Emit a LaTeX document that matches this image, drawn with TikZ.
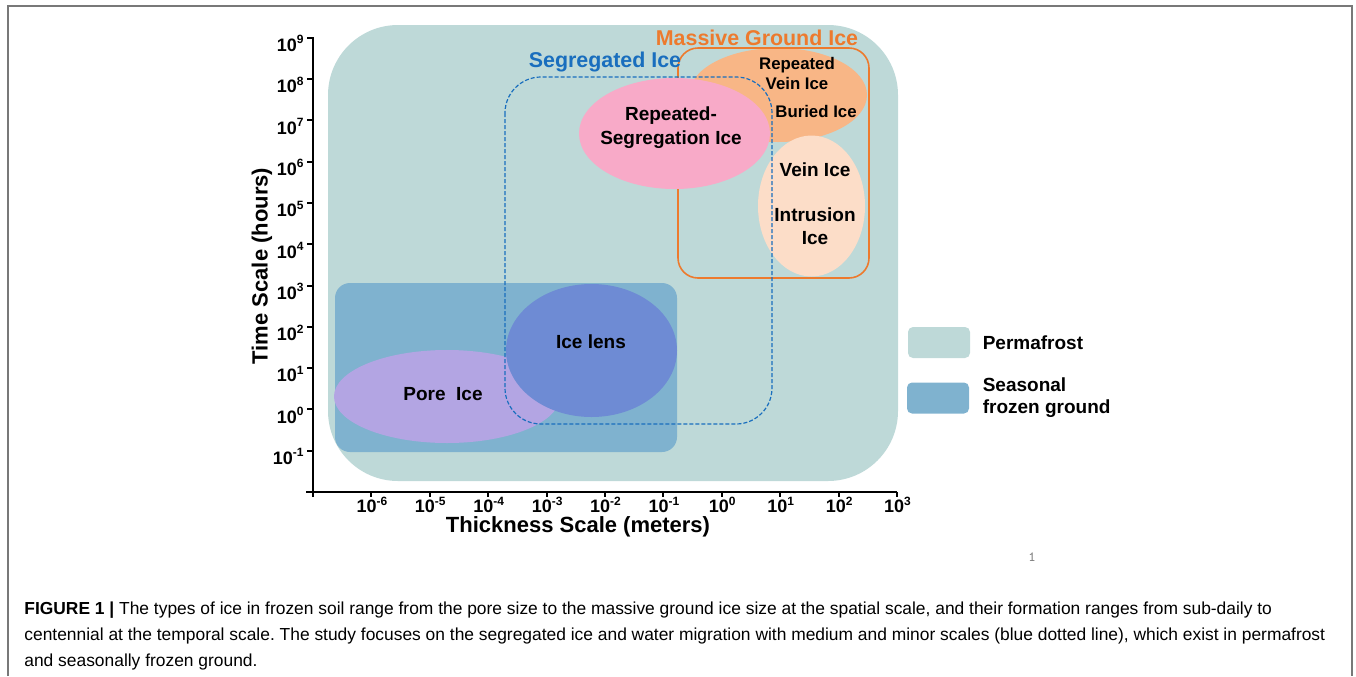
\documentclass[tikz,border=0pt]{standalone}
\usepackage{fontspec}
\setmainfont{Liberation Sans}
\usetikzlibrary{positioning}
\frenchspacing

\definecolor{permafrost}{RGB}{190,217,216}
\definecolor{seasonal}{RGB}{127,178,207}
\definecolor{poreice}{RGB}{179,165,227}
\definecolor{icelens}{RGB}{110,139,212}
\definecolor{repseg}{RGB}{248,170,200}
\definecolor{buried}{RGB}{248,182,134}
\definecolor{veinice}{RGB}{252,221,200}
\definecolor{segblue}{RGB}{25,110,190}
\definecolor{massorange}{RGB}{237,122,45}
\definecolor{framegray}{RGB}{120,120,120}

\tikzset{
	axisline/.style={line width=1pt, black},
	ticklbl/.style={font=\bfseries\fontsize{9}{10}\selectfont, inner sep=0pt},
	icelbl/.style={font=\bfseries\fontsize{9.5}{12}\selectfont, align=center, inner sep=0pt},
	smalllbl/.style={font=\bfseries\fontsize{8.4}{10}\selectfont, align=center, inner sep=0pt},
	grouplbl/.style={font=\bfseries\fontsize{10.7}{12}\selectfont, inner sep=0pt},
	axistitle/.style={font=\bfseries\fontsize{11}{13}\selectfont, inner sep=0pt},
	legbox/.style={rounded corners=2.5pt, minimum width=31pt, minimum height=15.5pt, inner sep=0pt},
	captionline/.style={font=\fontsize{8.7}{10}\selectfont, anchor=base west, inner sep=0pt},
}

\begin{document}
\begin{tikzpicture}[x=0.5pt, y=-0.5pt]
	\useasboundingbox (0,0) rectangle (1356,676);
	%FRAME
	\draw[framegray, line width=0.75pt] (8,676) -- (8,6) -- (1352,6) -- (1352,676);
	%REGIONS
	\fill[permafrost, rounded corners=35pt] (328,25) rectangle (898,481);
	\fill[seasonal, rounded corners=7.5pt] (335,283) rectangle (677,452);
	\fill[poreice] (447,396.5) ellipse [x radius=113, y radius=46.5];
	\fill[icelens] (591.5,350.5) ellipse [x radius=85.5, y radius=66.5];
	\fill[buried] (778,95) ellipse [x radius=89, y radius=47];
	\draw[massorange, line width=0.8pt, rounded corners=10pt] (678,48) rectangle (869,278);
	\fill[repseg] (674.5,133.5) ellipse [x radius=95.5, y radius=55.5];
	\fill[veinice] (811.5,206) ellipse [x radius=53.5, y radius=70.5];
	\draw[segblue, dashed, dash pattern=on 2pt off 1pt, line width=0.6pt, rounded corners=18pt] (505,77) rectangle (772,424);
	%LABELS for ice types
	\node[grouplbl, text=segblue] (seglbl) at (605,62) {Segregated Ice};
	\node[grouplbl, text=massorange] (masslbl) at (757,38) {Massive Ground Ice};
	\node[icelbl] (repseglbl) at (671,128) {Repeated-\\Segregation Ice};
	\node[smalllbl] (repveinlbl) at (797,73) {Repeated\\Vein Ice};
	\node[smalllbl] (buriedlbl) at (816,111) {Buried Ice};
	\node[icelbl] (veinlbl) at (815,170) {Vein Ice};
	\node[icelbl, font=\bfseries\fontsize{9.5}{11.5}\selectfont] (intrlbl) at (815,226) {Intrusion\\Ice};
	\node[icelbl] (lenslbl) at (591,342) {Ice lens};
	\node[icelbl] (porelbl) at (443,394) {Pore\ \ Ice};
	%AXES
	\draw[axisline] (313,37) -- (313,492) -- (897,492);
	\draw[axisline] (306,492) -- (313,492);
	\foreach \k in {-7,...,3}
		\draw[axisline] ({313+(\k+7)*58.4},492) -- ++(0,5);
	\foreach \k in {-6,...,3}
		\node[ticklbl] (xt\k) at ({314+(\k+7)*58.4},505) {10\textsuperscript{\k}};
	\foreach \k in {-1,...,9}{
		\draw[axisline] (313,{492-(\k+2)*41.3}) -- ++(-6,0);
		\node[ticklbl, anchor=east] (yt\k) at (305,{498-(\k+2)*41.3}) {10\textsuperscript{\k}};
	}
	\node[axistitle] (xtitle) at (578,527) {Thickness Scale (meters)};
	\node[axistitle, rotate=90] (ytitle) at (262,266) {Time Scale (hours)};
	%LEGEND
	\node[legbox, fill=permafrost] (permbox) at (939,342.5) {};
	\node[legbox, fill=seasonal] (seasbox) at (938,398) {};
	\node[icelbl, align=left, right=6pt of permbox] (permlbl) {Permafrost};
	\node[icelbl, align=left, font=\bfseries\fontsize{9.5}{11}\selectfont, right=6.5pt of seasbox] (seaslbl) {Seasonal\\frozen ground};
	%PAGE NUMBER and CAPTION
	\node[font=\ttfamily\fontsize{7}{8}\selectfont, text=gray] (pagenum) at (1032,557) {1};
	\node[captionline] (cap1) at (24,614) {\textbf{FIGURE 1 |} The types of ice in frozen soil range from the pore size to the massive ground ice size at the spatial scale, and their formation ranges from sub-daily to};
	\node[captionline] (cap2) at (24,640) {centennial at the temporal scale. The study focuses on the segregated ice and water migration with medium and minor scales (blue dotted line), which exist in permafrost};
	\node[captionline] (cap3) at (24,666) {and seasonally frozen ground.};
\end{tikzpicture}
\end{document}
